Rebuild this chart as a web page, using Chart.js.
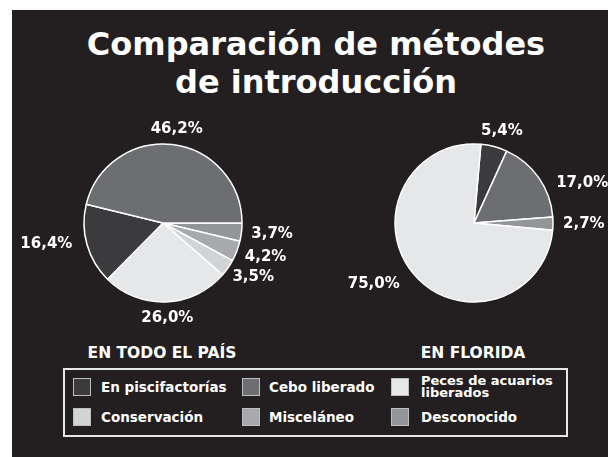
<!DOCTYPE html>
<html>
<head>
<meta charset="utf-8">
<script src="https://cdn.jsdelivr.net/npm/chart.js@4.4.0/dist/chart.umd.min.js"></script>
<style>
  body { margin: 0; width: 608px; height: 457px; overflow: hidden; position: relative; background: #fff;
         font-family: "DejaVu Sans", Verdana, sans-serif; font-weight: bold; color: #fff; }
  #panel { position: absolute; left: 12px; top: 10px; right: 0; bottom: 0; background: #231f20; }
  #title { position: absolute; left: 20px; width: 592px; top: 25px; text-align: center; font-size: 32px; line-height: 38px; }
  canvas { position: absolute; }
  .sub { position: absolute; top: 344px; font-size: 15.5px; text-align: center; width: 240px; }
  #legend { position: absolute; left: 63px; top: 368px; width: 501px; height: 65px; border: 2px solid #e6e7e8; }
  .item { position: absolute; font-size: 13.5px; line-height: 13px; }
  .sw { position: absolute; width: 16px; height: 16px; border: 1.5px solid #bcbec0; }
  .txt { position: absolute; white-space: nowrap; }
</style>
</head>
<body>
<div id="panel"></div>
<div id="title">Comparación de métodes<br>de introducción</div>
<canvas id="pais" width="300" height="240" style="left:13px;top:103px"></canvas>
<canvas id="florida" width="268" height="240" style="left:340px;top:103px"></canvas>
<div class="sub" style="left:42px">EN TODO EL PAÍS</div>
<div class="sub" style="left:353px">EN FLORIDA</div>
<div id="legend"></div>
<script>
var categories = ['En piscifactorías', 'Cebo liberado', 'Peces de acuarios liberados', 'Conservación', 'Misceláneo', 'Desconocido'];
var categoryColors = ['#3b3b3d', '#6d6e71', '#e6e7e8', '#d1d3d4', '#a7a9ac', '#939598'];

var paisLabels = ['Desconocido', 'Misceláneo', 'Conservación', 'Peces de acuarios liberados', 'En piscifactorías', 'Cebo liberado'];
var paisValues = [3.7, 4.2, 3.5, 26.0, 16.4, 46.2];

var floridaLabels = ['En piscifactorías', 'Cebo liberado', 'Desconocido', 'Peces de acuarios liberados'];
var floridaValues = [5.4, 17.0, 2.7, 75.0];

function colorOf(name) { return categoryColors[categories.indexOf(name)]; }

// percent labels outside each slice
var outsideLabels = {
  id: 'outsideLabels',
  afterDatasetsDraw: function (chart, args, opts) {
    var ctx = chart.ctx;
    var meta = chart.getDatasetMeta(0);
    var values = chart.data.datasets[0].data;
    ctx.save();
    ctx.font = 'bold 15px "DejaVu Sans"';
    ctx.fillStyle = '#fff';
    ctx.textAlign = 'center';
    ctx.textBaseline = 'middle';
    meta.data.forEach(function (arc, i) {
      var p = arc.getProps(['x', 'y', 'startAngle', 'endAngle', 'outerRadius'], true);
      var mid = (p.startAngle + p.endAngle) / 2;
      var txt = values[i].toFixed(1).replace('.', ',') + '%';
      var w = ctx.measureText(txt).width, h = 12;
      var r = p.outerRadius + opts.gap;
      var n = (opts.nudge && opts.nudge[i]) || [0, 0];
      var x = p.x + Math.cos(mid) * r + Math.cos(mid) * w / 2 + n[0];
      var y = p.y + Math.sin(mid) * r + Math.sin(mid) * h / 2 + n[1];
      ctx.fillText(txt, x, y);
    });
    ctx.restore();
  }
};

function makePie(id, labels, values, rotation, nudge) {
  return new Chart(document.getElementById(id), {
    type: 'pie',
    data: {
      labels: labels,
      datasets: [{
        data: values,
        backgroundColor: labels.map(colorOf),
        borderColor: '#ffffff',
        borderWidth: 1.5
      }]
    },
    options: {
      responsive: false,
      animation: false,
      rotation: rotation,
      radius: 79,
      plugins: {
        legend: { display: false },
        tooltip: { enabled: false },
        outsideLabels: { gap: 10, nudge: nudge }
      }
    },
    plugins: [outsideLabels]
  });
}

makePie('pais', paisLabels, paisValues, 90, { 4: [-6, -5] });
makePie('florida', floridaLabels, floridaValues, 5, { 1: [14, 15], 3: [-12, 0] });

// legend built from categories
var legend = document.getElementById('legend');
var colX = [[8, 36], [177, 204], [326, 356]];
var rowY = [8, 38];
categories.forEach(function (name, i) {
  var c = colX[i % 3], r = rowY[Math.floor(i / 3)];
  var sw = document.createElement('div');
  sw.className = 'sw';
  sw.style.left = c[0] + 'px';
  sw.style.top = r + 'px';
  sw.style.background = categoryColors[i];
  legend.appendChild(sw);
  var t = document.createElement('div');
  t.className = 'item txt';
  t.style.left = c[1] + 'px';
  if (name === 'Peces de acuarios liberados') {
    t.innerHTML = 'Peces de acuarios<br>liberados';
    t.style.top = (r - 3) + 'px';
    t.style.fontSize = '13px';
    t.style.lineHeight = '12px';
  } else {
    t.textContent = name;
    t.style.top = (r + 3) + 'px';
  }
  legend.appendChild(t);
});
</script>
</body>
</html>
